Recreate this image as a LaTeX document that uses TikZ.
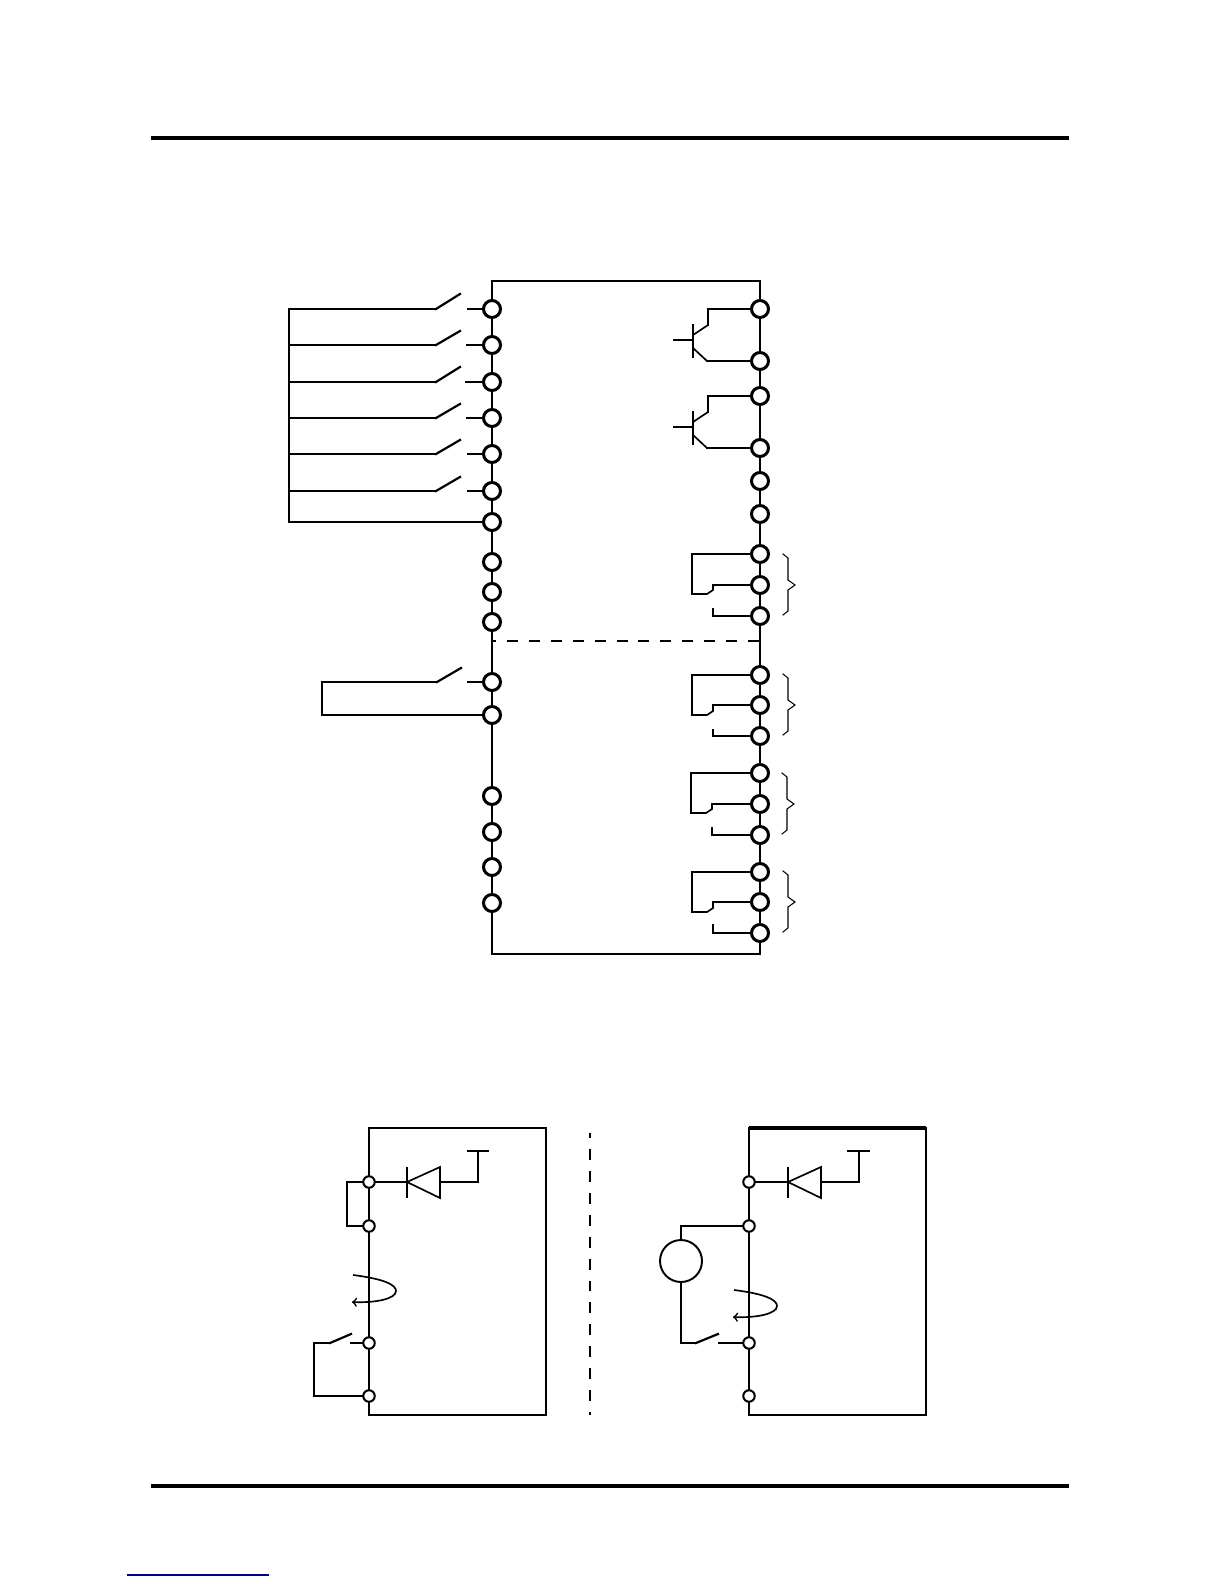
\documentclass[tikz,border=0pt]{standalone}
\usepackage{xcolor}
\usepackage{tikz}
\usetikzlibrary{arrows}
\usetikzlibrary{calc}
\begin{document}
\begin{tikzpicture}[-,>=to,x=0.02cm,y=-0.02cm,line width=1.25pt,line cap=rect,line join=miter]
	\tikzstyle{term}=[draw, circle, inner sep=0pt, minimum size=0.34cm, fill=white, line width=1.7pt]
	\tikzstyle{sterm}=[draw, circle, inner sep=0pt, minimum size=0.23cm, fill=white, line width=1.15pt]
	\tikzstyle{wire}=[line width=0.95pt]
	\tikzstyle{thin wire}=[line width=0.6pt]
	\tikzstyle{dash line}=[line width=1.3pt, line cap=butt, dash pattern=on 6.24pt off 6.24pt]
	\tikzstyle{rule}=[line width=1.8pt, line cap=butt]
	\useasboundingbox (0,0) rectangle (1224,1584);
	% rules
	\coordinate (TopA) at (151,138);
	\coordinate (TopB) at (1069,138);
	\coordinate (BotA) at (151,1486);
	\coordinate (BotB) at (1069,1486);
	\coordinate (LnkA) at (127,1575);
	\coordinate (LnkB) at (269,1575);
	\draw[rule] (TopA) -- (TopB);
	\draw[rule] (BotA) -- (BotB);
	\draw[blue!60!black, line width=0.7pt, line cap=butt] (LnkA) -- (LnkB);
	% left terminals
	\node[term] (L1) at (492,309) {};
	\node[term] (L2) at (492,345) {};
	\node[term] (L3) at (492,382) {};
	\node[term] (L4) at (492,418) {};
	\node[term] (L5) at (492,454) {};
	\node[term] (L6) at (492,491) {};
	\node[term] (L7) at (492,522) {};
	\node[term] (L8) at (492,562) {};
	\node[term] (L9) at (492,592) {};
	\node[term] (L10) at (492,622) {};
	\node[term] (L11) at (492,682) {};
	\node[term] (L12) at (492,715) {};
	\node[term] (L13) at (492,796) {};
	\node[term] (L14) at (492,832) {};
	\node[term] (L15) at (492,867) {};
	\node[term] (L16) at (492,903) {};
	% right terminals
	\node[term] (R1) at (760,309) {};
	\node[term] (R2) at (760,361) {};
	\node[term] (R3) at (760,396) {};
	\node[term] (R4) at (760,448) {};
	\node[term] (R5) at (760,481) {};
	\node[term] (R6) at (760,514) {};
	\node[term] (R7) at (760,554) {};
	\node[term] (R8) at (760,585) {};
	\node[term] (R9) at (760,616) {};
	\node[term] (R10) at (760,675) {};
	\node[term] (R11) at (760,705) {};
	\node[term] (R12) at (760,736) {};
	\node[term] (R13) at (760,773) {};
	\node[term] (R14) at (760,804) {};
	\node[term] (R15) at (760,835) {};
	\node[term] (R16) at (760,872) {};
	\node[term] (R17) at (760,902) {};
	\node[term] (R18) at (760,933) {};
	% box corners and divider
	\coordinate (BoxA) at (492,281);
	\coordinate (BoxB) at (760,281);
	\coordinate (BoxC) at (492,954);
	\coordinate (BoxD) at (760,954);
	\coordinate (DivA) at (492,641);
	\coordinate (DivB) at (760,641);
	\path
	(L1) edge (BoxA)
	(BoxA) edge (BoxB)
	(BoxB) edge (R1)
	(L1) edge (L2)
	(L2) edge (L3)
	(L3) edge (L4)
	(L4) edge (L5)
	(L5) edge (L6)
	(L6) edge (L7)
	(L7) edge (L8)
	(L8) edge (L9)
	(L9) edge (L10)
	(L10) edge (L11)
	(L11) edge (L12)
	(L12) edge (L13)
	(L13) edge (L14)
	(L14) edge (L15)
	(L15) edge (L16)
	(L16) edge (BoxC)
	(BoxC) edge (BoxD)
	(BoxD) edge (R18)
	(R1) edge (R2)
	(R2) edge (R3)
	(R3) edge (R4)
	(R4) edge (R5)
	(R5) edge (R6)
	(R6) edge (R7)
	(R7) edge (R8)
	(R8) edge (R9)
	(R9) edge (R10)
	(R10) edge (R11)
	(R11) edge (R12)
	(R12) edge (R13)
	(R13) edge (R14)
	(R14) edge (R15)
	(R15) edge (R16)
	(R16) edge (R17)
	(R17) edge (R18);
	\draw[dash line, dash phase=4pt] (DivA) -- (DivB);
	% switches on the left
	\coordinate (Bus1) at (289,309);
	\coordinate (Bus2) at (289,345);
	\coordinate (Bus3) at (289,382);
	\coordinate (Bus4) at (289,418);
	\coordinate (Bus5) at (289,454);
	\coordinate (Bus6) at (289,491);
	\coordinate (Bus7) at (289,522);
	\coordinate (Sw1) at (436,309);
	\coordinate (Sw2) at (436,345);
	\coordinate (Sw3) at (436,382);
	\coordinate (Sw4) at (436,418);
	\coordinate (Sw5) at (436,454);
	\coordinate (Sw6) at (436,491);
	\coordinate (Bl1) at (460,294);
	\coordinate (Bl2) at (460,331);
	\coordinate (Bl3) at (460,367);
	\coordinate (Bl4) at (460,404);
	\coordinate (Bl5) at (460,440);
	\coordinate (Bl6) at (460,477);
	\coordinate (St1) at (468,309);
	\coordinate (St2) at (467,345);
	\coordinate (St3) at (466,382);
	\coordinate (St4) at (467,418);
	\coordinate (St5) at (468,454);
	\coordinate (St6) at (468,491);
	\path
	(Bus1) edge (Bus7)
	(Bus7) edge (L7)
	(Bus1) edge (Sw1)
	(Bus2) edge (Sw2)
	(Bus3) edge (Sw3)
	(Bus4) edge (Sw4)
	(Bus5) edge (Sw5)
	(Bus6) edge (Sw6)
	(Sw1) edge (Bl1)
	(Sw2) edge (Bl2)
	(Sw3) edge (Bl3)
	(Sw4) edge (Bl4)
	(Sw5) edge (Bl5)
	(Sw6) edge (Bl6)
	(St1) edge (L1)
	(St2) edge (L2)
	(St3) edge (L3)
	(St4) edge (L4)
	(St5) edge (L5)
	(St6) edge (L6);
	% loop switch
	\coordinate (LpA) at (322,682);
	\coordinate (LpB) at (322,715);
	\coordinate (Sw7) at (437,682);
	\coordinate (Bl7) at (461,668);
	\coordinate (St7) at (468,682);
	\path
	(LpA) edge (Sw7)
	(Sw7) edge (Bl7)
	(St7) edge (L11)
	(LpA) edge (LpB)
	(LpB) edge (L12);
	% transistors
	\coordinate (TaK) at (708,309);
	\coordinate (TaC) at (708,325);
	\coordinate (TaD) at (693,335);
	\coordinate (TaU) at (693,325);
	\coordinate (TaV) at (693,357);
	\coordinate (TaB) at (674,340);
	\coordinate (TaM) at (693,340);
	\coordinate (TaE) at (693,348);
	\coordinate (TaF) at (707,361);
	\coordinate (TbK) at (708,396);
	\coordinate (TbC) at (708,412);
	\coordinate (TbD) at (693,422);
	\coordinate (TbU) at (693,412);
	\coordinate (TbV) at (693,444);
	\coordinate (TbB) at (674,427);
	\coordinate (TbM) at (693,427);
	\coordinate (TbE) at (693,435);
	\coordinate (TbF) at (707,448);
	\path[wire]
	(R1) edge (TaK)
	(TaK) edge (TaC)
	(TaC) edge (TaD)
	(TaU) edge (TaV)
	(TaB) edge (TaM)
	(TaE) edge (TaF)
	(TaF) edge (R2)
	(R3) edge (TbK)
	(TbK) edge (TbC)
	(TbC) edge (TbD)
	(TbU) edge (TbV)
	(TbB) edge (TbM)
	(TbE) edge (TbF)
	(TbF) edge (R4);
	% relay contacts
	\coordinate (RaA) at (692,554);
	\coordinate (RaB) at (692,594);
	\coordinate (RaC) at (707,594);
	\coordinate (RaD) at (713,590);
	\coordinate (RaE) at (713,585);
	\coordinate (RaF) at (713,609);
	\coordinate (RaG) at (713,616);
	\coordinate (RbA) at (692,675);
	\coordinate (RbB) at (692,715);
	\coordinate (RbC) at (707,715);
	\coordinate (RbD) at (713,711);
	\coordinate (RbE) at (713,705);
	\coordinate (RbF) at (713,730);
	\coordinate (RbG) at (713,736);
	\coordinate (RcA) at (691,773);
	\coordinate (RcB) at (691,813);
	\coordinate (RcC) at (706,813);
	\coordinate (RcD) at (712,809);
	\coordinate (RcE) at (712,804);
	\coordinate (RcF) at (712,828);
	\coordinate (RcG) at (712,835);
	\coordinate (RdA) at (692,872);
	\coordinate (RdB) at (692,912);
	\coordinate (RdC) at (707,912);
	\coordinate (RdD) at (713,908);
	\coordinate (RdE) at (713,902);
	\coordinate (RdF) at (713,925);
	\coordinate (RdG) at (713,933);
	\draw[wire] (R7) -- (RaA) -- (RaB) -- (RaC) -- (RaD) -- (RaE) -- (R8);
	\draw[wire] (RaF) -- (RaG) -- (R9);
	\draw[wire] (R10) -- (RbA) -- (RbB) -- (RbC) -- (RbD) -- (RbE) -- (R11);
	\draw[wire] (RbF) -- (RbG) -- (R12);
	\draw[wire] (R13) -- (RcA) -- (RcB) -- (RcC) -- (RcD) -- (RcE) -- (R14);
	\draw[wire] (RcF) -- (RcG) -- (R15);
	\draw[wire] (R16) -- (RdA) -- (RdB) -- (RdC) -- (RdD) -- (RdE) -- (R17);
	\draw[wire] (RdF) -- (RdG) -- (R18);
	% braces
	\draw[thin wire] (783,554) -- (788,558) -- (788,580) -- (795,585) -- (788,590) -- (788,611) -- (783,615);
	\draw[thin wire] (783,674) -- (788,678) -- (788,700) -- (795,705) -- (788,710) -- (788,731) -- (783,735);
	\draw[thin wire] (782,773) -- (787,777) -- (787,799) -- (794,804) -- (787,809) -- (787,830) -- (782,834);
	\draw[thin wire] (783,871) -- (788,875) -- (788,897) -- (795,902) -- (788,907) -- (788,928) -- (783,932);
	% lower left unit
	\node[sterm] (A1) at (369,1182) {};
	\node[sterm] (A2) at (369,1226) {};
	\node[sterm] (A3) at (369,1343) {};
	\node[sterm] (A4) at (369,1396) {};
	\coordinate (AbA) at (369,1128);
	\coordinate (AbB) at (546,1128);
	\coordinate (AbC) at (546,1415);
	\coordinate (AbD) at (369,1415);
	\coordinate (AdT) at (407,1182);
	\coordinate (AdU) at (407,1168);
	\coordinate (AdV) at (407,1197);
	\coordinate (AdA) at (440,1167);
	\coordinate (AdB) at (440,1198);
	\coordinate (AdM) at (440,1182);
	\coordinate (AvK) at (478,1182);
	\coordinate (AvT) at (478,1151);
	\coordinate (AvL) at (468,1151);
	\coordinate (AvR) at (488,1151);
	\coordinate (AjA) at (347,1182);
	\coordinate (AjB) at (347,1226);
	\coordinate (AsA) at (314,1343);
	\coordinate (AsB) at (314,1396);
	\coordinate (AsC) at (330,1343);
	\coordinate (AsD) at (351,1334);
	\coordinate (AsE) at (351,1343);
	\path
	(AbA) edge (A1)
	(AbA) edge[line width=1.5pt] (AbB)
	(AbB) edge (AbC)
	(AbC) edge[thin wire] (AbD)
	(AbD) edge[thin wire] (A4)
	(A1) edge (A2)
	(A2) edge (A3)
	(A3) edge (A4)
	(A1) edge (AdT)
	(AdM) edge (AvK)
	(AvK) edge (AvT)
	(AvL) edge (AvR)
	(A1) edge (AjA)
	(AjA) edge (AjB)
	(AjB) edge (A2)
	(A3) edge (AsE)
	(AsC) edge (AsD)
	(AsC) edge (AsA)
	(AsA) edge (AsB)
	(AsB) edge (A4);
	\draw[line width=1.6pt] (AdU) -- (AdV);
	\draw[wire] (AdT) -- (AdA) -- (AdB) -- cycle;
	\draw[wire,->,line cap=butt] (353,1275) .. controls (385,1279) and (396,1285) .. (396,1291) .. controls (396,1299) and (375,1303) .. (352,1302);
	% centre line
	\coordinate (MidA) at (590,1133);
	\coordinate (MidB) at (590,1415);
	\draw[dash line, dash phase=3.4pt] (MidA) -- (MidB);
	% lower right unit
	\node[sterm] (C1) at (749,1182) {};
	\node[sterm] (C2) at (749,1226) {};
	\node[sterm] (C3) at (749,1343) {};
	\node[sterm] (C4) at (749,1396) {};
	\node[draw, circle, inner sep=0pt, minimum size=0.84cm, line width=1.1pt] (Src) at (681,1261) {};
	\coordinate (CbA) at (749,1128);
	\coordinate (CbB) at (926,1128);
	\coordinate (CbC) at (926,1415);
	\coordinate (CbD) at (749,1415);
	\coordinate (CdT) at (788,1182);
	\coordinate (CdU) at (788,1168);
	\coordinate (CdV) at (788,1197);
	\coordinate (CdA) at (821,1167);
	\coordinate (CdB) at (821,1198);
	\coordinate (CdM) at (821,1182);
	\coordinate (CvK) at (859,1182);
	\coordinate (CvT) at (859,1151);
	\coordinate (CvL) at (848,1151);
	\coordinate (CvR) at (869,1151);
	\coordinate (CsT) at (681,1226);
	\coordinate (CsA) at (681,1343);
	\coordinate (CsC) at (696,1343);
	\coordinate (CsD) at (718,1334);
	\coordinate (CsE) at (719,1343);
	\draw[rule] (CbA) -- (CbB);
	\path
	(CbA) edge (C1)
	(C1) edge (C2)
	(C2) edge (C3)
	(C3) edge (C4)
	(C1) edge (CdT)
	(CdU) edge (CdV)
	(CdM) edge (CvK)
	(CvK) edge (CvT)
	(CvL) edge (CvR)
	(C2) edge (CsT)
	(CsT) edge (Src)
	(Src) edge (CsA)
	(CsA) edge (CsC)
	(CsC) edge (CsD)
	(CsE) edge (C3);
	\path[thin wire]
	(CbB) edge (CbC)
	(CbC) edge (CbD)
	(CbD) edge (C4);
	\draw[wire] (CdT) -- (CdA) -- (CdB) -- cycle;
	\draw[wire,->,line cap=butt] (734,1290) .. controls (766,1294) and (777,1300) .. (777,1306) .. controls (777,1314) and (756,1318) .. (733,1317);
\end{tikzpicture}
\end{document}
